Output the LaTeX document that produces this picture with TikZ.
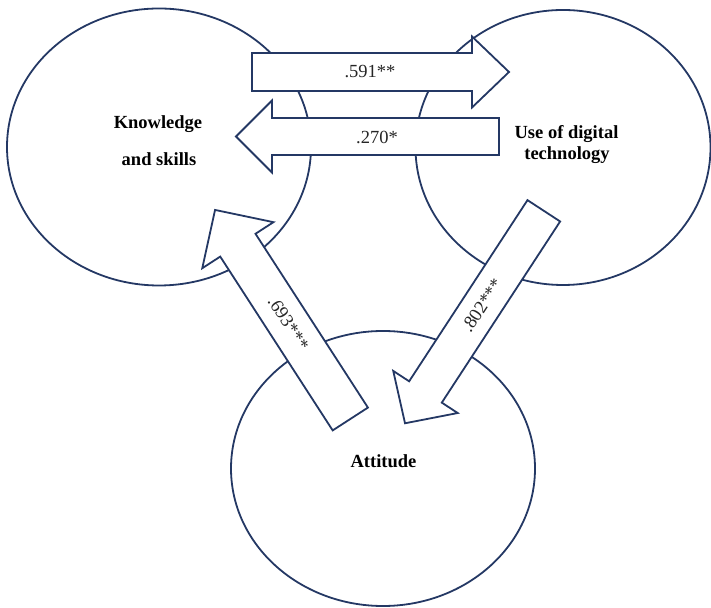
\documentclass[tikz,border=0pt]{standalone}
\usepackage{fontspec}
\setmainfont{Liberation Serif}
\usetikzlibrary{shapes.geometric}
\definecolor{navy}{RGB}{36,56,100}
\begin{document}
\begin{tikzpicture}[x=1pt,y=1pt,
  circ/.style={ellipse, draw=navy, line width=1.8pt, inner sep=0pt},
  blockarrow/.style={draw=navy, fill=white, line width=1.8pt, line join=miter},
  construct/.style={font=\fontsize{18.5}{22}\selectfont\bfseries, anchor=base, inner sep=0pt},
  coef/.style={font=\fontsize{18.5}{22}\selectfont, inner sep=0pt, text=black!85}]
\useasboundingbox (0,0) rectangle (711,607);

% the three constructs
\node[circ, minimum width=304pt, minimum height=277pt] (ks) at (159,460) {};
\node[circ, minimum width=295pt, minimum height=275pt] (dt) at (563,459.5) {};
\node[circ, minimum width=304pt, minimum height=275pt] (at) at (383,138.5) {};

\node[construct] (ks1) at (158,478) {Knowledge};
\node[construct] (ks2) at (159,441) {and skills};
\node[construct] (dt1) at (566.5,468) {Use of digital};
\node[construct] (dt2) at (567,447) {technology};
\node[construct] (at1) at (383.5,139) {Attitude};

% knowledge and skills -> use of digital technology
\begin{scope}[shift={(252,535)}]
  \draw[blockarrow] (0,19) -- (220,19) -- (220,35.5) -- (257,0) -- (220,-35.5) -- (220,-19) -- (0,-19) -- cycle;
\end{scope}
\node[coef] (c591) at (370,535) {.591**};

% use of digital technology -> knowledge and skills
\begin{scope}[shift={(499,470.5)}, rotate=180]
  \draw[blockarrow] (0,18.5) -- (227,18.5) -- (227,36) -- (263,0) -- (227,-36) -- (227,-18.5) -- (0,-18.5) -- cycle;
\end{scope}
\node[coef] (c270) at (377,469.5) {.270*};

% attitude -> knowledge and skills
\begin{scope}[shift={(350.3,188)}, rotate=122.9]
  \draw[blockarrow] (0,21) -- (207,21) -- (207,42.4) -- (249,0) -- (207,-42.4) -- (207,-21) -- (0,-21) -- cycle;
  \node[coef, rotate=-57.1] (c693) at (114,0) {.693***};
\end{scope}

% use of digital technology -> attitude
\begin{scope}[shift={(543.8,396.2)}, rotate=236.85]
  \draw[blockarrow] (0,19.5) -- (216.4,19.5) -- (216.4,38.5) -- (253.8,0) -- (216.4,-38.5) -- (216.4,-19.5) -- (0,-19.5) -- cycle;
  \node[coef, rotate=56.85] (c802) at (113,0) {.802***};
\end{scope}
\end{tikzpicture}
\end{document}
